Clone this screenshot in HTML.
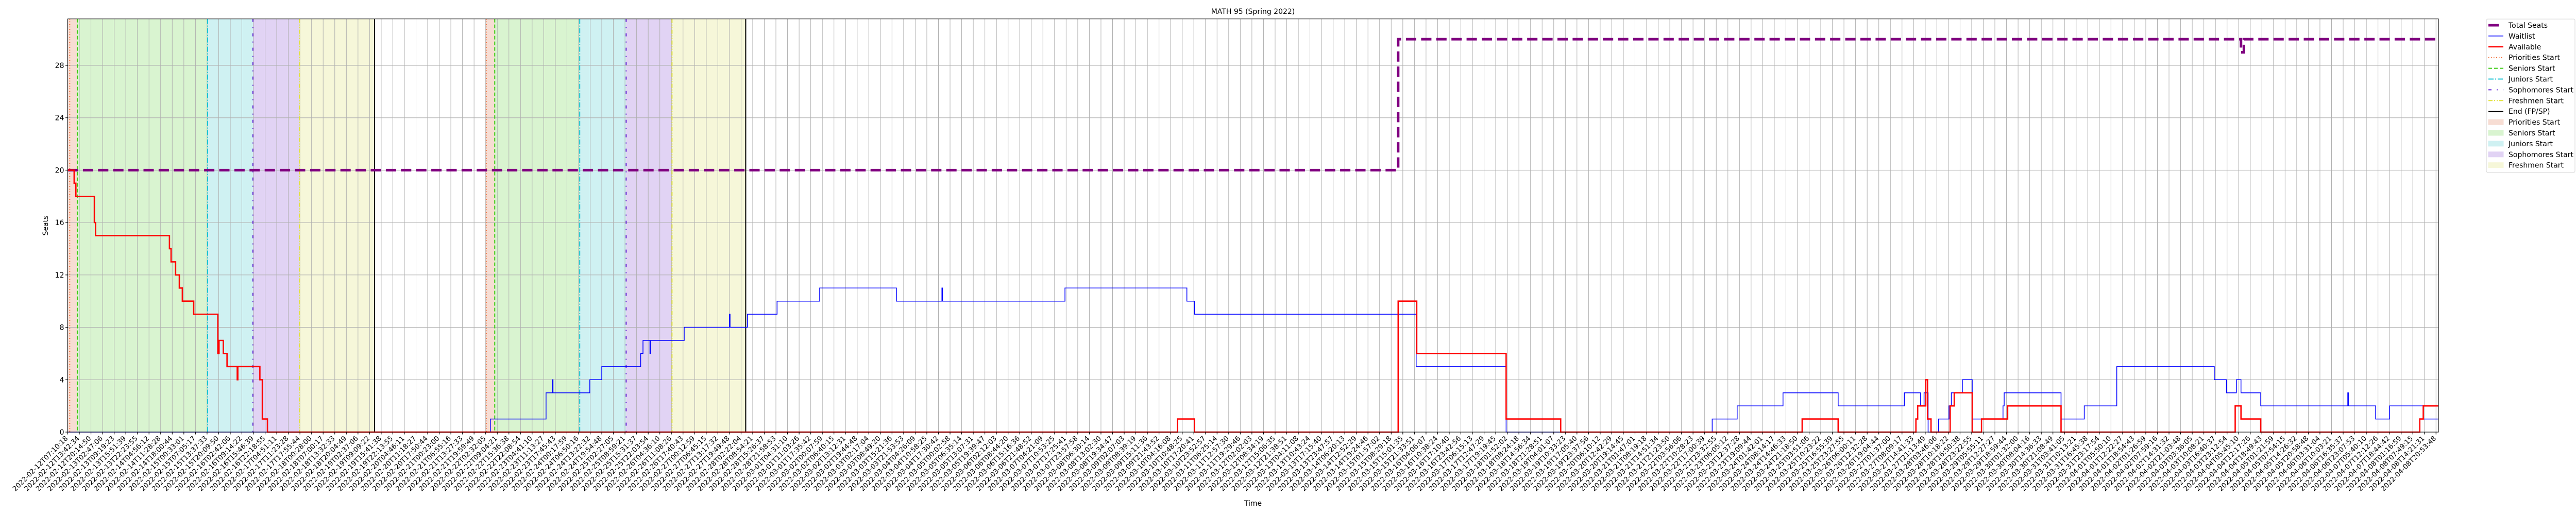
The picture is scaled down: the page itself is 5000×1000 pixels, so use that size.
<!DOCTYPE html>
<html><head><meta charset="utf-8"><style>
html,body{margin:0;padding:0;background:#fff;}
svg{display:block;font-family:"DejaVu Sans","Liberation Sans",sans-serif;}
</style></head><body>
<svg id="chart" width="5000" height="1000" viewBox="0 0 5000 1000" xmlns="http://www.w3.org/2000/svg">
<rect x="0" y="0" width="5000" height="1000" fill="#fff"/>
<g id="spans"></g><g id="grid"></g><g id="vlines"></g><g id="series"></g><g id="axes"></g>
<text x="2432" y="27" text-anchor="middle" font-size="14">MATH 95 (Spring 2022)</text>
<text x="2432" y="982" text-anchor="middle" font-size="14">Time</text>
<text x="93" y="438" text-anchor="middle" font-size="14" transform="rotate(-90 93 438)">Seats</text>
<g id="legend"></g>
</svg>
<script>
// ---- data (x in tick-index units of time) ----
const seatsT = [0, 114.6, 187.2, 187.45];
const seatsV = [20, 30, 29, 30];
const waitT = [0,36.4,41.2,41.75,41.8,44.97,46.0,49.35,49.55,50.15,50.2,53.1,57.0,57.05,58.55,61.1,64.77,71.38,75.3,75.35,85.9,96.4,97.05,116.15,123.9,141.65,143.8,147.75,152.5,158.2,159.6,159.9,160.25,161.15,162.05,162.25,163.2,164.05,166.7,166.8,171.7,173.7,176.5,184.9,185.95,186.8,187.2,188.9,196.4,196.45,198.8,200.0,202.9];
const waitV = [0,1,3,4,3,4,5,6,7,6,7,8,9,8,9,10,11,10,11,10,11,10,9,5,0,1,2,3,2,3,2,3,0,1,2,3,4,1,2,3,1,2,5,4,3,4,3,2,3,2,1,2,1];
const availT = [0,0.55,0.7,2.29,2.4,8.76,8.9,9.29,9.61,9.87,10.85,12.93,13.03,13.4,13.72,14.6,14.65,16.55,16.76,17.2,95.6,97.05,114.6,116.2,123.9,128.6,149.4,152.5,159.2,159.35,160.05,160.2,160.5,162.15,162.5,164.05,164.85,167.1,171.7,186.7,187.2,188.9,202.6,202.9];
const availV = [20,19,18,16,15,14,13,12,11,10,9,6,7,6,5,4,5,4,1,0,1,0,10,6,1,0,1,0,1,2,4,1,0,2,3,0,1,2,0,2,1,0,1,2];
const prioStarts = [0, 36.05];
const prioLines = [0.17, 36.05];
const seniorStarts = [0.82, 36.78];
const juniorStarts = [12.05, 44.1];
const sophStarts = [15.95, 48.1];
const freshStarts = [19.96, 52.05];
const endTimes = [26.43, 58.4];
const yTicks = [0,4,8,12,16,20,24,28];
const tickStart = "2022-02-12T07:10:18";
const tickEnd = "2022-04-08T20:53:48";
const tickCount = 205;
const xMax = 204.2, yMax = 31.55;

const NS = "http://www.w3.org/2000/svg";
const L = 131.5, R = 4733, B = 839, T = 839 - yMax*25.43;
function xs(t){ return L + t*(4728.3-L)/204; }
function ys(v){ return B - v*(B-T)/yMax; }
function mk(tag, attrs, parent){
  const e = document.createElementNS(NS, tag);
  for (const k in attrs) e.setAttribute(k, attrs[k]);
  parent.appendChild(e); return e;
}
const gS = document.getElementById('spans'), gG = document.getElementById('grid'),
      gV = document.getElementById('vlines'), gSe = document.getElementById('series'),
      gA = document.getElementById('axes'), gL = document.getElementById('legend');

const colP='#f7ddd3', colS='#d9f4d0', colJ='#cff1f2', colSo='#e1d3f4', colF='#f6f7d9';
for (let i=0;i<2;i++){
  const segs=[[prioStarts[i],seniorStarts[i],colP,'priorities-span'],[seniorStarts[i],juniorStarts[i],colS,'seniors-span'],
    [juniorStarts[i],sophStarts[i],colJ,'juniors-span'],[sophStarts[i],freshStarts[i],colSo,'sophomores-span'],[freshStarts[i],endTimes[i],colF,'freshmen-span']];
  segs.forEach(s=>{
    const r = mk('rect',{x:xs(s[0]),y:T,width:xs(s[1])-xs(s[0]),height:B-T,fill:s[2]},gS);
    
    
  });
}
for (let i=0;i<tickCount;i++){
  const x=xs(i);
  const l = mk('line',{x1:x,x2:x,y1:T,y2:B,stroke:'#b0b0b0','stroke-width':1},gG);
  
  
}
yTicks.forEach(v=>{
  const l = mk('line',{x1:L,x2:R,y1:ys(v),y2:ys(v),stroke:'#b0b0b0','stroke-width':1.1},gG);
  
  
});
const styles = {
  prio:{c:'#f0642a',d:'1.5 3.5',w:2},
  sen:{c:'#3ccc13',d:'7 4',w:2},
  jun:{c:'#17c3d3',d:'10 3 2 3',w:2},
  soph:{c:'#6221d6',d:'6 10 2 10',w:2},
  fresh:{c:'#e2e23a',d:'8 3 2 3 2 3',w:2},
  end:{c:'#000',d:'',w:2}
};
function vline(t, st, name){
  const l = mk('line',{x1:xs(t),x2:xs(t),y1:T,y2:B,stroke:st.c,'stroke-width':st.w,'stroke-dasharray':st.d},gV);
  
  
}
prioLines.forEach(t=>vline(t,styles.prio,'priorities-start-line'));
seniorStarts.forEach(t=>vline(t,styles.sen,'seniors-start-line'));
juniorStarts.forEach(t=>vline(t,styles.jun,'juniors-start-line'));
sophStarts.forEach(t=>vline(t,styles.soph,'sophomores-start-line'));
freshStarts.forEach(t=>vline(t,styles.fresh,'freshmen-start-line'));
endTimes.forEach(t=>vline(t,styles.end,'end-line'));
function stepPath(ts, vs){
  let d = 'M'+xs(ts[0])+','+ys(vs[0]);
  for (let i=1;i<ts.length;i++){ d += ' H'+xs(ts[i])+' V'+ys(vs[i]); }
  d += ' H'+xs(xMax);
  return d;
}
const pS = mk('path',{d:stepPath(seatsT,seatsV),fill:'none',stroke:'#800080','stroke-width':5,'stroke-dasharray':'20 9.4'},gSe);


const pW = mk('path',{d:stepPath(waitT,waitV),fill:'none',stroke:'#0000ff','stroke-width':1.5},gSe);


const pA = mk('path',{d:stepPath(availT,availV),fill:'none',stroke:'#ff0000','stroke-width':2.6},gSe);


const fr = mk('rect',{x:L,y:T,width:R-L,height:B-T,fill:'none',stroke:'#000','stroke-width':1.1},gA);


yTicks.forEach(v=>{
  const y=ys(v);
  mk('line',{x1:L-4.5,x2:L,y1:y,y2:y,stroke:'#000','stroke-width':1.1},gA);
  const t = mk('text',{x:L-7,y:y+5,'text-anchor':'end','font-size':14},gA);
  t.textContent = v;
  
  
});
function pad(n){ return (n<10?'0':'')+n; }
const t0 = Date.parse(tickStart+'Z'), t1 = Date.parse(tickEnd+'Z');
for (let i=0;i<tickCount;i++){
  const x=xs(i);
  mk('line',{x1:x,x2:x,y1:B,y2:B+4.5,stroke:'#000','stroke-width':1.1},gA);
  const d = new Date(t0 + (t1-t0)*i/(tickCount-1));
  const s = d.getUTCFullYear()+'-'+pad(d.getUTCMonth()+1)+'-'+pad(d.getUTCDate())+'T'+pad(d.getUTCHours())+':'+pad(d.getUTCMinutes())+':'+pad(d.getUTCSeconds());
  const t = mk('text',{x:x+1,y:852,'text-anchor':'end','font-size':13.3,transform:'rotate(-45 '+(x+1)+' 852)'},gA);
  t.textContent = s;
  
  
}
const lb = mk('rect',{x:4826,y:37,width:172,height:298,rx:3,fill:'#fff',stroke:'#d6d6d6','stroke-width':1},gL);


const entries = [
  ['line','Total Seats',{c:'#800080',w:5,d:''},'legend-total-seats'],
  ['line','Waitlist',{c:'#0000ff',w:1.5,d:''},'legend-waitlist'],
  ['line','Available',{c:'#ff0000',w:2.6,d:''},'legend-available'],
  ['line','Priorities Start',styles.prio,'legend-priorities-line'],
  ['line','Seniors Start',styles.sen,'legend-seniors-line'],
  ['line','Juniors Start',styles.jun,'legend-juniors-line'],
  ['line','Sophomores Start',styles.soph,'legend-sophomores-line'],
  ['line','Freshmen Start',styles.fresh,'legend-freshmen-line'],
  ['line','End (FP/SP)',styles.end,'legend-end-line'],
  ['patch','Priorities Start',colP,'legend-priorities-span'],
  ['patch','Seniors Start',colS,'legend-seniors-span'],
  ['patch','Juniors Start',colJ,'legend-juniors-span'],
  ['patch','Sophomores Start',colSo,'legend-sophomores-span'],
  ['patch','Freshmen Start',colF,'legend-freshmen-span']
];
entries.forEach((e,i)=>{
  const y = 49 + i*20.9;
  const g = mk('g',{},gL);
  
  
  if (e[0]==='line'){
    const x2 = i===0 ? 4850 : 4859;
    mk('line',{x1:4830,x2:x2,y1:y,y2:y,stroke:e[2].c,'stroke-width':e[2].w,'stroke-dasharray':e[2].d},g);
  } else {
    mk('rect',{x:4830,y:y-5,width:29,height:10,fill:e[2],stroke:e[2],'stroke-width':1},g);
  }
  const t = mk('text',{x:4869,y:y+5,'font-size':14},g);
  t.textContent = e[1];
});
</script>
</body></html>
